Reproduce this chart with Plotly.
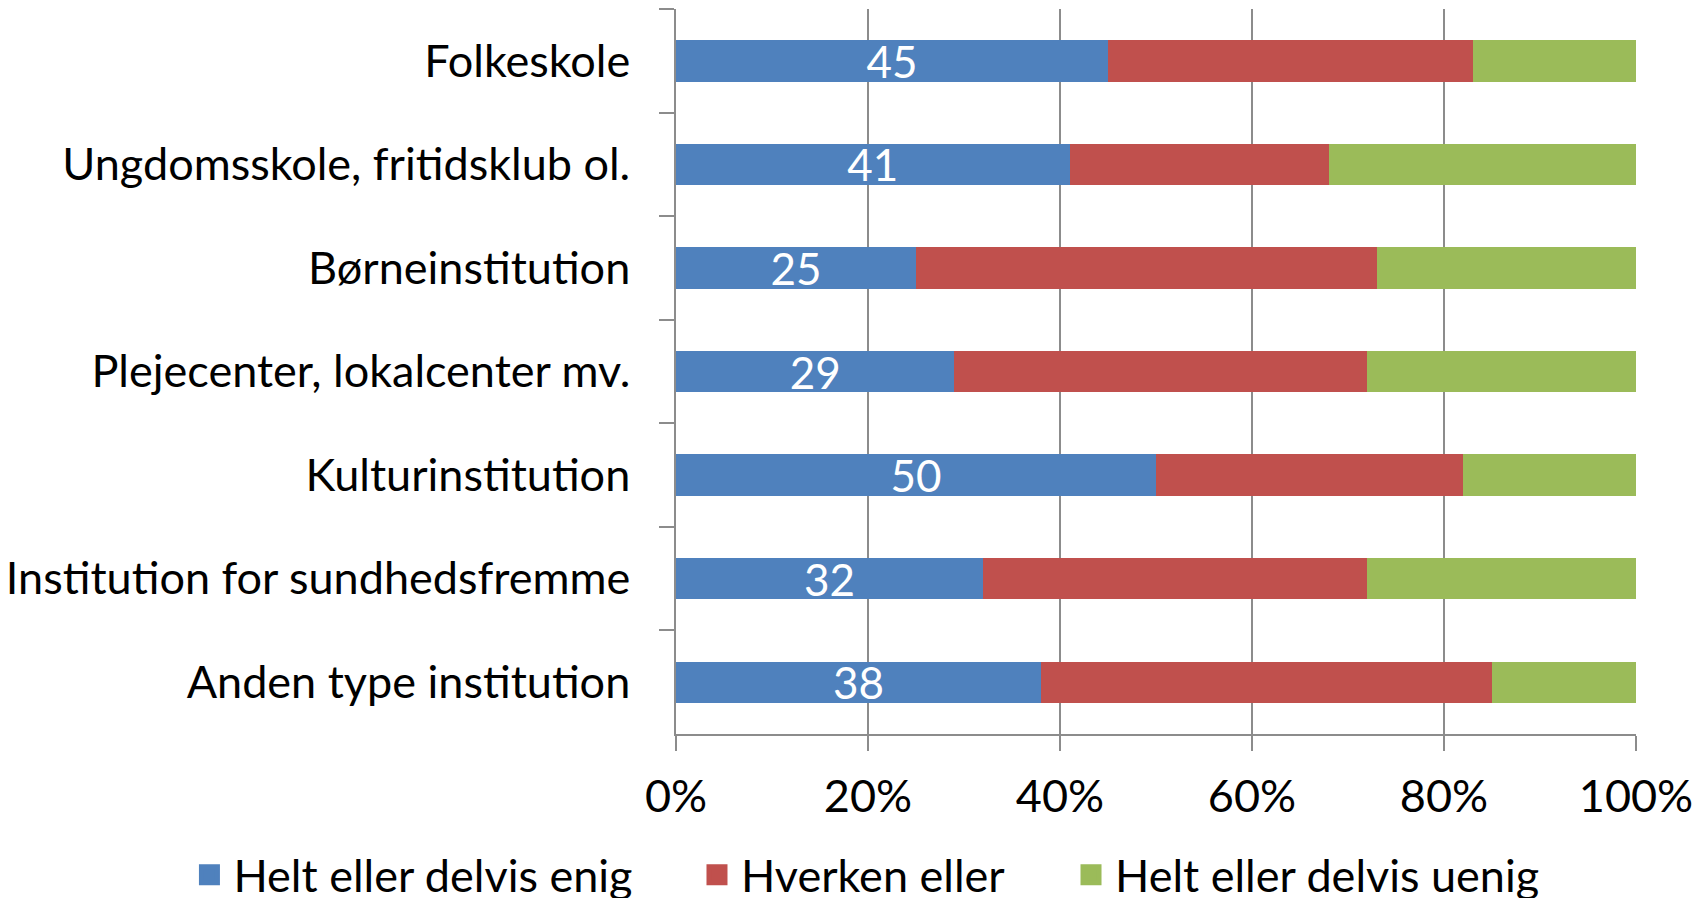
import plotly.graph_objects as go

CATEGORIES = [
    "Folkeskole",
    "Ungdomsskole, fritidsklub ol.",
    "Børneinstitution",
    "Plejecenter, lokalcenter mv.",
    "Kulturinstitution",
    "Institution for sundhedsfremme",
    "Anden type institution",
]
ENIG = [45, 41, 25, 29, 50, 32, 38]
HVERKEN = [38, 27, 48, 43, 32, 40, 47]
UENIG = [17, 32, 27, 28, 18, 28, 15]

TICK_VALS = [0, 20, 40, 60, 80, 100]
TICK_TEXT = ["0%", "20%", "40%", "60%", "80%", "100%"]

SERIES = [
    ("Helt eller delvis enig", ENIG, "#4F81BD"),
    ("Hverken eller", HVERKEN, "#C0504D"),
    ("Helt eller delvis uenig", UENIG, "#9BBB59"),
]

FONT = "Lato, Calibri, Open Sans, sans-serif"
GRID = "#8C8C8C"

# one legend box per entry so the spacing can follow the original
LEGEND_IDS = ["legend", "legend2", "legend3"]
LEGEND_X = [-0.511, 0.0177, 0.4073]

fig = go.Figure()
for i, (name, vals, color) in enumerate(SERIES):
    fig.add_trace(
        go.Bar(
            y=CATEGORIES,
            x=vals,
            name=name,
            orientation="h",
            showlegend=False,
            marker=dict(color=color, line=dict(width=0)),
            text=[str(v) for v in vals] if i == 0 else None,
            textposition="inside" if i == 0 else "none",
            insidetextanchor="middle",
            textangle=0,
            constraintext="none",
            insidetextfont=dict(color="white", size=44, family=FONT),
        )
    )

# legend swatches (bigger than the default bar icon)
for (name, _, color), lid in zip(SERIES, LEGEND_IDS):
    fig.add_trace(
        go.Scatter(
            x=[None],
            y=[None],
            mode="markers",
            name=name,
            legend=lid,
            marker=dict(symbol="square", size=24, color=color,
                        line=dict(width=5, color=color)),
            showlegend=True,
        )
    )

legend_style = dict(
    orientation="h",
    xanchor="left",
    y=-0.1945,
    yanchor="middle",
    font=dict(size=45, family=FONT, color="black"),
    itemsizing="trace",
    itemwidth=38,
    bgcolor="rgba(0,0,0,0)",
)

fig.update_layout(
    barmode="stack",
    bargap=0.6,
    width=1705,
    height=898,
    # page body adds an 8px offset, margins are trimmed to compensate
    margin=dict(l=668, r=77, t=1, b=172, autoexpand=False),
    plot_bgcolor="white",
    paper_bgcolor="white",
    font=dict(family=FONT, size=45, color="black"),
    legend=dict(x=LEGEND_X[0], **legend_style),
    legend2=dict(x=LEGEND_X[1], **legend_style),
    legend3=dict(x=LEGEND_X[2], **legend_style),
)

fig.update_xaxes(
    range=[0, 100],
    tickvals=TICK_VALS,
    ticktext=TICK_TEXT,
    showgrid=True,
    gridcolor=GRID,
    gridwidth=1.5,
    showline=True,
    linecolor=GRID,
    linewidth=1.5,
    ticks="outside",
    ticklen=15,
    tickcolor=GRID,
    tickwidth=1.5,
    ticklabelstandoff=7,
    zeroline=False,
    automargin=False,
)
fig.update_yaxes(
    autorange="reversed",
    showline=True,
    linecolor=GRID,
    linewidth=1.5,
    ticks="outside",
    tickson="boundaries",
    ticklen=15,
    tickcolor=GRID,
    tickwidth=1.5,
    ticklabelstandoff=35,
    automargin=False,
)

fig.write_html("out.html")
